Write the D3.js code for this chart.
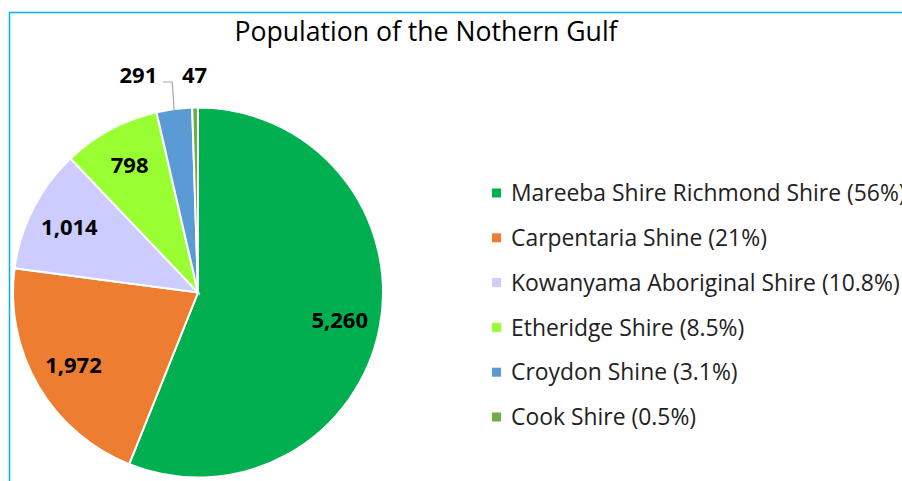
<!DOCTYPE html>
<html>
<head>
<meta charset="utf-8">
<script src="https://cdn.jsdelivr.net/npm/d3@7"></script>
<style>
  body { margin: 0; background: #fff; }
  svg { display: block; }
</style>
</head>
<body>
<div id="chart"></div>
<script>
// data
const shires = ["Mareeba Shire Richmond Shire", "Carpentaria Shine", "Kowanyama Aboriginal Shire",
                "Etheridge Shire", "Croydon Shine", "Cook Shire"];
const population = [5260, 1972, 1014, 798, 291, 47];
const shares = ["56%", "21%", "10.8%", "8.5%", "3.1%", "0.5%"];
const colours = ["#00b050", "#ed7d31", "#ccccff", "#99ff33", "#5b9bd5", "#70ad47"];

const width = 902, height = 481;
const cx = 198, cy = 292.5, radius = 185;
const font = "'Open Sans', 'Noto Sans', sans-serif";

const svg = d3.select("#chart").append("svg")
    .attr("width", width)
    .attr("height", height);

// frame (only top and left edges are visible)
svg.append("path")
    .attr("d", "M9.5," + height + "V12.5H" + width)
    .attr("fill", "none")
    .attr("stroke", "#00b0f0")
    .attr("stroke-width", 1.5);

svg.append("text")
    .attr("x", 426)
    .attr("y", 41)
    .attr("text-anchor", "middle")
    .style("font-family", font)
    .style("font-size", "26.6px")
    .attr("fill", "#000")
    .text("Population of the Nothern Gulf");

const data = shires.map((s, i) => ({ name: s, value: population[i], share: shares[i], colour: colours[i] }));

const pie = d3.pie().sort(null).value(d => d.value);
const arcs = pie(data);

const arc = d3.arc().innerRadius(0).outerRadius(radius);
const labelArc = d3.arc().innerRadius(radius * 0.78).outerRadius(radius * 0.78);

const g = svg.append("g").attr("transform", "translate(" + cx + "," + cy + ")");

g.selectAll("path.slice")
    .data(arcs)
    .enter().append("path")
    .attr("class", "slice")
    .attr("d", arc)
    .attr("fill", d => d.data.colour)
    .attr("stroke", "#fff")
    .attr("stroke-width", 2);

const fmt = d3.format(",");
const midAngle = d => (d.startAngle + d.endAngle) / 2;

// labels inside the big slices
g.selectAll("text.inside")
    .data(arcs.filter(d => d.data.value > 500))
    .enter().append("text")
    .attr("class", "inside")
    .attr("transform", d => {
        const c = labelArc.centroid(d);
        return "translate(" + c[0] + "," + c[1] + ")";
    })
    .attr("text-anchor", "middle")
    .attr("dy", "0.36em")
    .style("font-family", font)
    .style("font-size", "22px")
    .style("font-weight", "bold")
    .text(d => fmt(d.data.value));

// small slices: labels above the pie
const outsideY = -radius - 32.5;
const small = arcs.filter(d => d.data.value <= 500);

small.forEach(d => {
    const a = midAngle(d);
    const ex = radius * Math.sin(a), ey = -radius * Math.cos(a);
    if (d.data.value > 100) {
        // leader line up and to the left
        const elbowX = ex - 2, elbowY = outsideY + 7;
        g.append("path")
            .attr("d", "M" + ex + "," + (ey + 2) + "L" + elbowX + "," + elbowY + "H" + (elbowX - 9))
            .attr("fill", "none")
            .attr("stroke", "#a6a6a6")
            .attr("stroke-width", 1.2);
        g.append("text")
            .attr("x", elbowX - 15)
            .attr("y", outsideY)
            .attr("dy", "0.36em")
            .attr("text-anchor", "end")
            .style("font-family", font)
            .style("font-size", "22px")
            .style("font-weight", "bold")
            .text(fmt(d.data.value));
    } else {
        g.append("text")
            .attr("x", (radius + 32) * Math.sin(a))
            .attr("y", outsideY)
            .attr("dy", "0.36em")
            .attr("text-anchor", "middle")
            .style("font-family", font)
            .style("font-size", "22px")
            .style("font-weight", "bold")
            .text(fmt(d.data.value));
    }
});

// legend
const legendY = d3.scalePoint().domain(shires).range([193, 417]);

const legend = svg.append("g").selectAll("g")
    .data(data)
    .enter().append("g")
    .attr("transform", d => "translate(492," + legendY(d.name) + ")");

legend.append("rect")
    .attr("x", 0)
    .attr("y", -4.5)
    .attr("width", 9)
    .attr("height", 9)
    .attr("fill", d => d.colour);

legend.append("text")
    .attr("x", 19)
    .attr("dy", "0.36em")
    .style("font-family", font)
    .style("font-size", "22.9px")
    .attr("fill", "#222")
    .text(d => d.name + " (" + d.share + ")");
</script>
</body>
</html>
